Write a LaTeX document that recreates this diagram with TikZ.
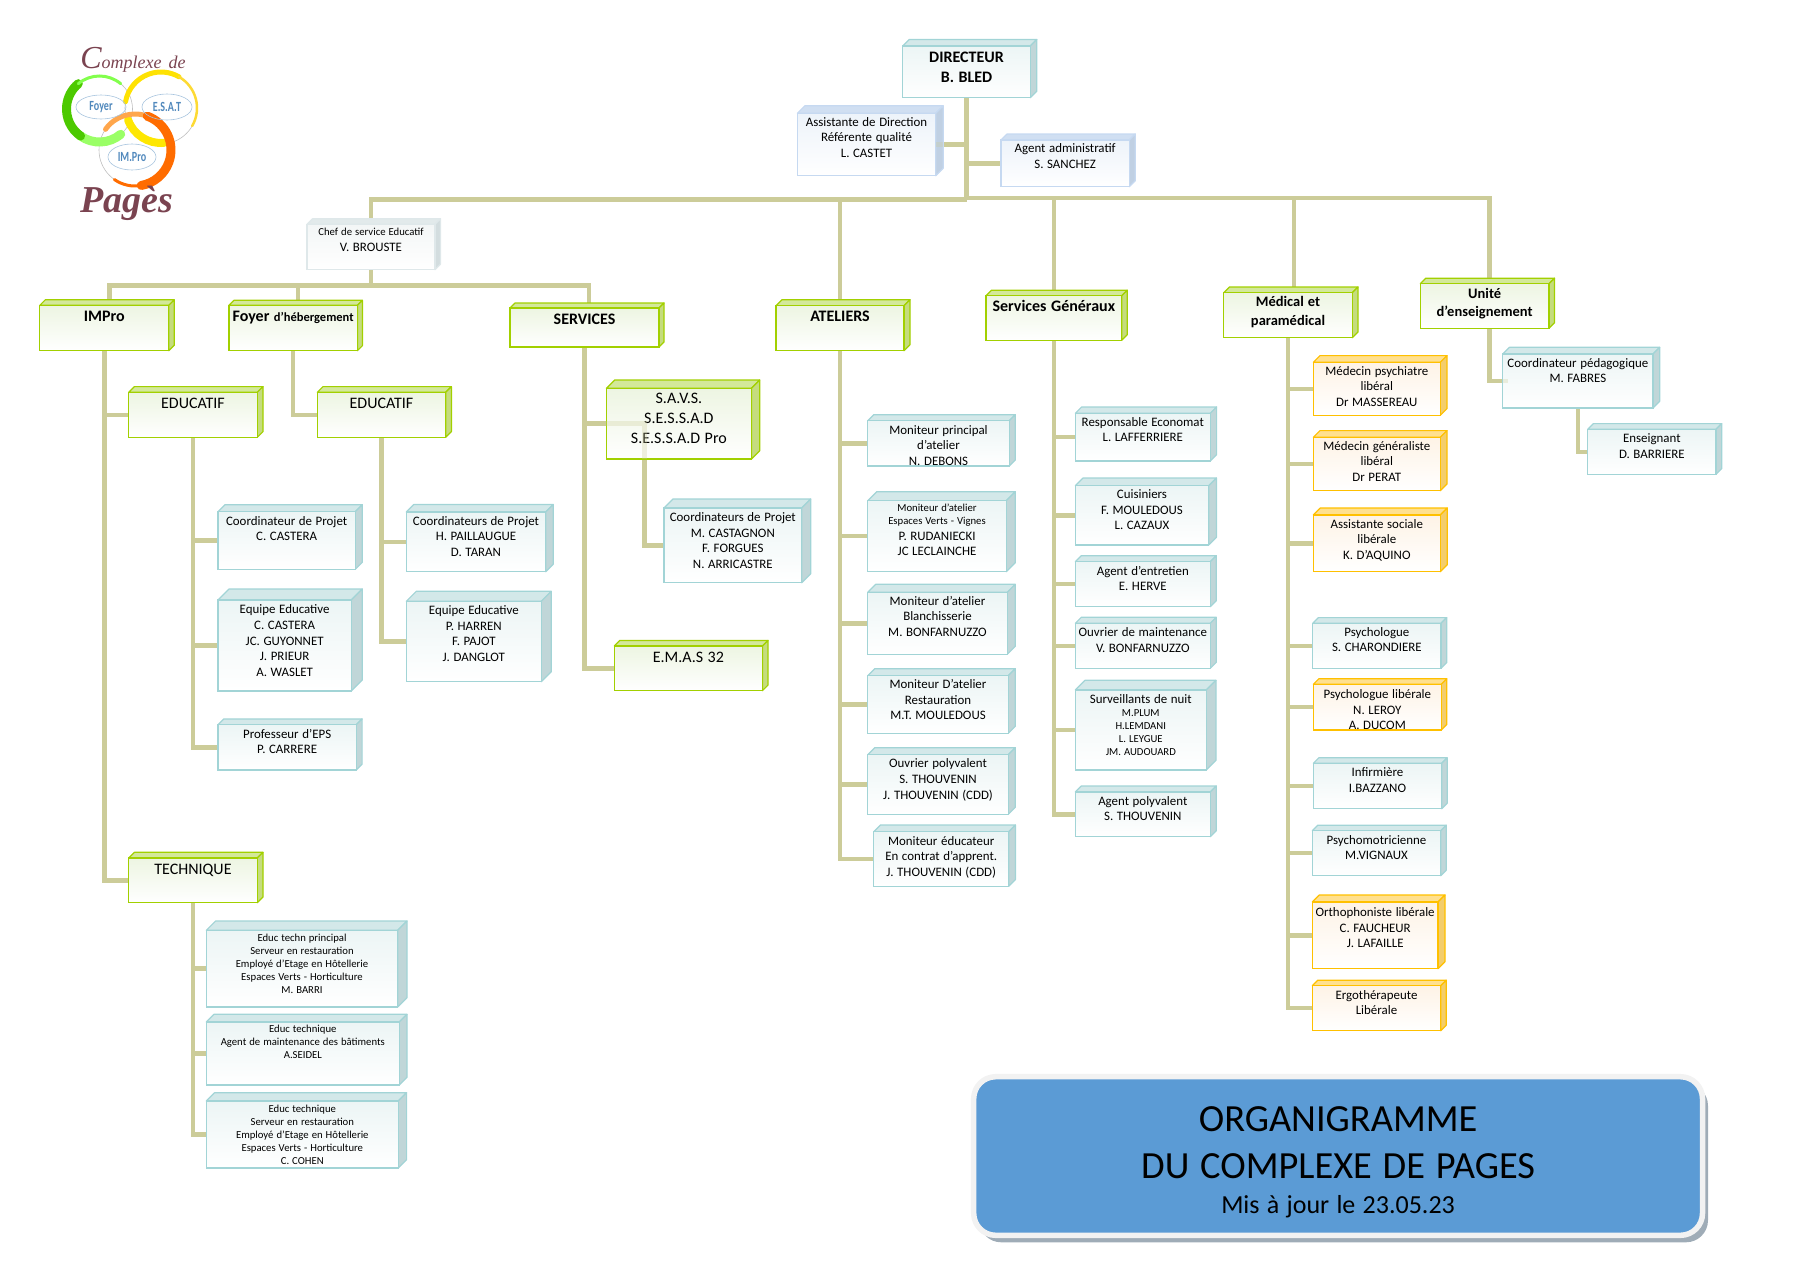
\documentclass[tikz,border=0pt]{standalone}
\usepackage{fontspec}
\setmainfont{Carlito}
\newfontfamily\logofont{Liberation Serif}
\usetikzlibrary{positioning,shadows,backgrounds}

\definecolor{linkcol}{HTML}{CCCC99}
\definecolor{tealline}{HTML}{A2D4D6}
\definecolor{tealtop}{HTML}{D3E8E9}
\definecolor{tealside}{HTML}{C0D6D8}
\definecolor{tealfront}{HTML}{ECF5F5}
\definecolor{blueline}{HTML}{C6D9F1}
\definecolor{bluetop}{HTML}{D0DFF2}
\definecolor{blueside}{HTML}{C0D0E3}
\definecolor{bluefront}{HTML}{EDF3FA}
\definecolor{greenline}{HTML}{A2D000}
\definecolor{greentop}{HTML}{D3E89A}
\definecolor{greenside}{HTML}{C5DC7E}
\definecolor{greenfront}{HTML}{EDF5E2}
\definecolor{orangeline}{HTML}{FFC000}
\definecolor{orangetop}{HTML}{FFE08F}
\definecolor{orangeside}{HTML}{F3CD6C}
\definecolor{orangefront}{HTML}{FEF3E6}
\definecolor{greyline}{HTML}{DFE8EA}
\definecolor{greytop}{HTML}{E2EAEB}
\definecolor{greyside}{HTML}{D3DDDF}
\definecolor{greyfront}{HTML}{F3F6F6}
\definecolor{titleblue}{HTML}{5B9BD5}
\definecolor{logomaroon}{HTML}{7A4350}
\definecolor{logoblue}{HTML}{5088BC}

\newcommand{\sized}[2]{\fontsize{#1}{#2}\selectfont\spaceskip=.28em\relax}
\newcommand{\bodyfont}{\sized{12.9}{15.7}}
\newcommand{\tinyfont}{\sized{10.7}{13}}
\newcommand{\headfont}{\sized{16}{20}}

\tikzset{
box at/.style args={#1,#2,#3,#4,#5}{at={(#1,#2)},anchor=north west,
  text width={(#3-#1)*1pt},text height={(#5-#2)*1pt},text depth={(#4-#5)*1pt}},
cube/.style 2 args={rectangle,inner sep=0pt,outer sep=0pt,align=flush center,font=\bodyfont,
  line width=1.2pt,draw=#1line,top color=#1front,bottom color=white,
  append after command={\pgfextra{
    \draw[line width=1.2pt,#1line,fill=#1top,line join=round] (\tikzlastnode.north west) -- ++(#2,-#2)
      -- ([shift={(#2,-#2)}]\tikzlastnode.north east) -- (\tikzlastnode.north east) -- cycle;
    \draw[line width=1.2pt,#1line,fill=#1side,line join=round] (\tikzlastnode.north east) -- ++(#2,-#2)
      -- ([shift={(#2,-#2)}]\tikzlastnode.south east) -- (\tikzlastnode.south east) -- cycle;}}},
tealbox/.style={cube={teal}{#1}},
bluebox/.style={cube={blue}{#1}},
greenbox/.style={cube={green}{#1},font=\headfont},
orangebox/.style={cube={orange}{#1}},
greybox/.style={cube={grey}{#1}},
link/.style={draw=linkcol,line width=4.4pt},
ghostlink/.style={link,draw opacity=.3},
ring/.style={line cap=round},
logolabel/.style={inner sep=0pt,text=logoblue,font=\fontsize{14}{14}\selectfont\bfseries,xscale=.72},
logoword/.style={inner sep=0pt,text=logomaroon}
}

\begin{document}
\begin{tikzpicture}[x=1pt,y=-1pt]
\useasboundingbox (0,0) rectangle (1800,1272);

\node[tealbox=6.5,box at={902.7,46,1030.3,97.7,62},font=\headfont\bfseries] (director) {DIRECTEUR\\B. BLED};
\node[bluebox=7.5,box at={797.3,113.3,935.7,175.7,126}] (assist) {Assistante de Direction\\Référente qualité\\L. CASTET};
\node[bluebox=6,box at={1001,140,1129.3,186.7,152.7}] (admin) {Agent administratif\\S. SANCHEZ};
\node[greybox=5.5,box at={307,224.3,435,269.7,235.3}] (chef) {\tinyfont Chef de service Educatif\\\bodyfont V. BROUSTE};

\node[greenbox=5.5,box at={39.8,305.3,168.8,350.7,321.7},font=\headfont\bfseries] (impro) {IMPro};
\node[greenbox=5,box at={228.9,305.3,357.4,350.7,321.7},font=\headfont\bfseries] (foyer) {Foyer {\sized{12.5}{15}d’hébergement}};
\node[greenbox=5,box at={510,308,659,347,324},font=\headfont\bfseries] (services) {SERVICES};
\node[greenbox=6,box at={776,305.7,904,350.7,321.7},font=\headfont\bfseries] (ateliers) {ATELIERS};
\node[greenbox=5.5,box at={986,295.7,1121.7,340.3,311.7},font=\headfont\bfseries] (generaux) {Services Généraux};
\node[greenbox=5.7,box at={1223.7,292.7,1352.3,337.7,306.7},font=\sized{14.5}{18.3}\bfseries] (medical) {Médical et\\paramédical};
\node[greenbox=5.5,box at={1420.3,283.7,1549,328.3,298.3},font=\sized{14.5}{17.7}\bfseries] (unite) {Unité\\d’enseignement};

\node[greenbox=5.7,box at={128.7,392.3,257.3,437.3,408.3}] (educ1) {EDUCATIF};
\node[greenbox=5.7,box at={317.3,392.3,445.7,437.3,408.3}] (educ2) {EDUCATIF};
\node[greenbox=5.7,box at={128.7,858,257.3,902.7,874}] (technique) {TECHNIQUE};

\node[tealbox=7,box at={218,511.7,355.3,569.3,525}] (a1) {Coordinateur de Projet\\C. CASTERA};
\node[tealbox=11,box at={218,600,351.3,691,613.7}] (a2) {Equipe Educative\\C. CASTERA\\JC. GUYONNET\\J. PRIEUR\\A. WASLET};
\node[tealbox=5.8,box at={218,724.7,356.3,770,738}] (a3) {Professeur d’EPS\\P. CARRERE};

\node[tealbox=7.5,box at={406.3,512,545.7,571.7,525}] (b1) {Coordinateurs de Projet\\H. PAILLAUGUE\\D. TARAN};
\node[tealbox=10,box at={406.3,601.3,541.3,681.7,614.3}] (b2) {Equipe Educative\\P. HARREN\\F. PAJOT\\J. DANGLOT};

\node[tealbox=9.3,box at={206.3,930.3,397.7,1007,941.7},font=\tinyfont] (t1) {Educ techn principal\\Serveur en restauration\\Employé d’Etage en Hôtellerie\\Espaces Verts - Horticulture\\M. BARRI};
\node[tealbox=7.7,box at={206.3,1022,399.3,1085,1032.7},font=\tinyfont] (t2) {Educ technique\\Agent de maintenance des bâtiments\\A.SEIDEL};
\node[tealbox=8.3,box at={206.3,1101,398.3,1168,1112},font=\tinyfont] (t3) {Educ technique\\Serveur en restauration\\Employé d’Etage en Hôtellerie\\Espaces Verts - Horticulture\\C. COHEN};

\node[greenbox=8.3,box at={606.4,388.3,751.4,459,403.7}] (savs) {S.A.V.S.\\S.E.S.S.A.D\\S.E.S.S.A.D Pro};
\node[tealbox=9,box at={663.9,508,801.7,582.7,521.3}] (coord3) {Coordinateurs de Projet\\M. CASTAGNON\\F. FORGUES\\N. ARRICASTRE};
\node[greenbox=5.6,box at={614.3,646,762.4,690.7,662}] (emas) {E.M.A.S 32};

\node[tealbox=6,box at={867.7,420.7,1009.3,466,434}] (m1) {Moniteur principal\\d’atelier\\N. DEBONS};
\node[tealbox=9,box at={867.7,500.7,1006.3,571.7,511.3}] (m2) {\tinyfont Moniteur d’atelier\\Espaces Verts - Vignes\\\bodyfont P. RUDANIECKI\\JC LECLAINCHE};
\node[tealbox=8,box at={867.7,592.3,1007.3,654.3,605}] (m3) {Moniteur d’atelier\\Blanchisserie\\M. BONFARNUZZO};
\node[tealbox=7,box at={867.7,675.7,1008.3,733.3,688.3}] (m4) {Moniteur D’atelier\\Restauration\\M.T. MOULEDOUS};
\node[tealbox=7,box at={867.7,754.7,1008.3,814.3,767.7}] (m5) {Ouvrier polyvalent\\S. THOUVENIN\\J. THOUVENIN (CDD)};
\node[tealbox=6.7,box at={873.7,831.7,1008.7,886.3,845}] (m6) {Moniteur éducateur\\En contrat d’apprent.\\J. THOUVENIN (CDD)};

\node[tealbox=6.3,box at={1075.3,413.3,1210.3,461,426}] (s1) {Responsable Economat\\L. LAFFERRIERE};
\node[tealbox=7.7,box at={1075.3,485.7,1208.7,545,498.3}] (s2) {Cuisiniers\\F. MOULEDOUS\\L. CAZAUX};
\node[tealbox=6,box at={1075.3,561.7,1210.3,606.7,575}] (s3) {Agent d’entretien\\E. HERVE};
\node[tealbox=6,box at={1075.3,623.3,1210.3,668.3,636.3}] (s4) {Ouvrier de maintenance\\V. BONFARNUZZO};
\node[tealbox=9.7,box at={1075.3,690,1206.3,770,703.3}] (s5) {Surveillants de nuit\\\tinyfont M.PLUM\\H.LEMDANI\\L. LEYGUE\\JM. AUDOUARD\par};
\node[tealbox=6,box at={1075.3,792,1210.3,836.7,805}] (s6) {Agent polyvalent\\S. THOUVENIN};

\node[orangebox=6.7,box at={1313.3,362.3,1440.3,415.3,375}] (p1) {Médecin psychiatre\\libéral\\Dr MASSEREAU};
\node[orangebox=6.7,box at={1313.3,437.3,1440.3,490.7,450}] (p2) {Médecin généraliste\\libéral\\Dr PERAT};
\node[orangebox=7,box at={1313.3,515,1440.3,571.7,528}] (p3) {Assistante sociale\\libérale\\K. D’AQUINO};
\node[tealbox=5.7,box at={1312.7,623.3,1441,668.3,636}] (p4) {Psychologue\\S. CHARONDIERE};
\node[orangebox=5.5,box at={1313.3,684.3,1441.3,730,698.3}] (p5) {Psychologue libérale\\N. LEROY\\A. DUCOM};
\node[tealbox=5.5,box at={1313.3,763.3,1441.7,808.7,776.7}] (p6) {Infirmière\\I.BAZZANO};
\node[tealbox=5.5,box at={1312.3,830.7,1440.7,875.7,844}] (p7) {Psychomotricienne\\M.VIGNAUX};
\node[orangebox=7,box at={1312.3,902,1438,968.7,916.3}] (p8) {Orthophoniste libérale\\C. FAUCHEUR\\J. LAFAILLE};
\node[orangebox=5.5,box at={1312.3,985.7,1440.7,1030.7,999}] (p9) {Ergothérapeute\\Libérale};

\node[tealbox=6.7,box at={1502.7,354,1653,408,367}] (peda) {Coordinateur pédagogique\\M. FABRES};
\node[tealbox=5.7,box at={1587.7,429.3,1716,474.3,442.3}] (ens) {Enseignant\\D. BARRIERE};

\node[rectangle,inner sep=0pt,outer sep=0pt,align=flush center,fill=titleblue,draw=black!5,line width=5.5pt,
  rounded corners=22pt,drop shadow={shadow xshift=5.5pt,shadow yshift=-7pt,fill=titleblue!45!black!45,opacity=1},
  font=\sized{38.4}{47},box at={973.7,1076.7,1702.5,1235.3,1131}] (title)
  {ORGANIGRAMME\\DU COMPLEXE DE PAGES\\\sized{26}{35}Mis à jour le 23.05.23\par};

\begin{pgfonlayer}{background}
\coordinate (busleft) at (director.south |- 0,199.3);
\coordinate (busright) at (director.south |- 0,198);
\coordinate (subbus) at (chef.south |- 0,285.5);
\draw[link] (director.south) -- (busleft);
\draw[link] (assist.east) -- (assist.east -| director.south);
\draw[link] (admin.west) -- (admin.west -| director.south);
\draw[link] (busleft) -| (chef.north);
\draw[link] (chef.south) -- (subbus);
\draw[link] (subbus) -| ([xshift=5.2pt]impro.north);
\draw[link] (subbus) -| ([xshift=5pt]foyer.north);
\draw[link] (subbus) -| ([xshift=4.5pt]services.north);
\draw[link] (busleft) -| (ateliers.north);
\draw[link] (busright) -| (generaux.north);
\draw[link] (busright) -| ([xshift=5.7pt]medical.north);
\draw[link] (busright) -| ([xshift=5pt]unite.north);

\draw[link] (impro.south) |- (educ1.west);
\draw[link] (impro.south) |- (technique.west);
\draw[link] (foyer.south) |- (educ2.west);
\draw[link] (services.south) |- (savs.west);
\draw[link] (services.south) |- (emas.west);
\draw[link] ([xshift=38.2pt]savs.west) |- (coord3.west);
\draw[link] ([xshift=5pt]unite.south) |- (peda.west);
\draw[link] (peda.south) |- (ens.west);

\foreach \value in {1,...,3}
  \draw[link] (educ1.south) |- (a\value.west);
\foreach \value in {1,2}
  \draw[link] (educ2.south) |- (b\value.west);
\foreach \value in {1,...,3}
  \draw[link] (technique.south) |- (t\value.west);
\foreach \value in {1,...,6}
  \draw[link] (ateliers.south) |- (m\value.west);
\foreach \value in {1,...,6}
  \draw[link] (generaux.south) |- (s\value.west);
\foreach \value in {1,...,9}
  \draw[link] (medical.south) |- (p\value.west);
\end{pgfonlayer}

% links that show faintly through the boxes
\draw[ghostlink] (savs.west) -- ([xshift=38.2pt]savs.west) -- ([xshift=38.2pt]savs.south west);
\draw[ghostlink] (assist.east) -- ++(7.5,0);
\draw[ghostlink] (peda.west) -- ++(5.5,0);

% logo
\draw[black!25,line width=.6pt] (99.5,109) circle (33) (161,108) circle (36) (135,150) circle (36);
\draw[ring,line width=9pt,green!55!lime!60!white] (99.5,109) ++(50:33) arc[start angle=50,end angle=125,radius=33];
\draw[ring,line width=9pt,green!65!black!60!lime] (99.5,109) ++(125:33) arc[start angle=125,end angle=230,radius=33];
\draw[ring,line width=3pt,green!60!lime!70!white] (99.5,109) ++(230:33) arc[start angle=230,end angle=310,radius=33];
\draw[ring,line width=5pt,yellow!85!orange] (161,108) ++(190:36) arc[start angle=190,end angle=300,radius=36];
\draw[ring,line width=2.5pt,yellow!70!orange!80!white] (161,108) ++(300:36) arc[start angle=300,end angle=390,radius=36];
\draw[ring,line width=8pt,yellow!90!orange] (161,108) ++(85:35) arc[start angle=85,end angle=160,radius=35];
\draw[ring,line width=5pt,orange!70!white] (135,150) ++(215:36) arc[start angle=215,end angle=290,radius=36];
\draw[ring,line width=9pt,orange!85!red] (135,150) ++(290:36) arc[start angle=290,end angle=440,radius=36];
\draw[ring,line width=3pt,orange!85!red] (135,150) ++(80:36) arc[start angle=80,end angle=125,radius=36];
\draw[logoblue!50,line width=.6pt] (101,107) ellipse (25 and 12) (167,107) ellipse (25 and 13) (132,157) ellipse (24 and 13);
\node[logolabel] (logofoyer) at (101,107) {Foyer};
\node[logolabel] (logoesat) at (167,107) {E.S.A.T};
\node[logolabel] (logoimpro) at (132,157) {IM.Pro};
\node[logoword,font=\logofont\itshape\fontsize{18}{18}\selectfont,anchor=base] (logotop) at (133,68) {{\fontsize{32}{32}\selectfont C}omplexe\hspace{7pt}de};
\node[logoword,font=\logofont\itshape\bfseries\fontsize{38}{38}\selectfont,anchor=base] (logopages) at (127,212) {Pagès};
\end{tikzpicture}
\end{document}
